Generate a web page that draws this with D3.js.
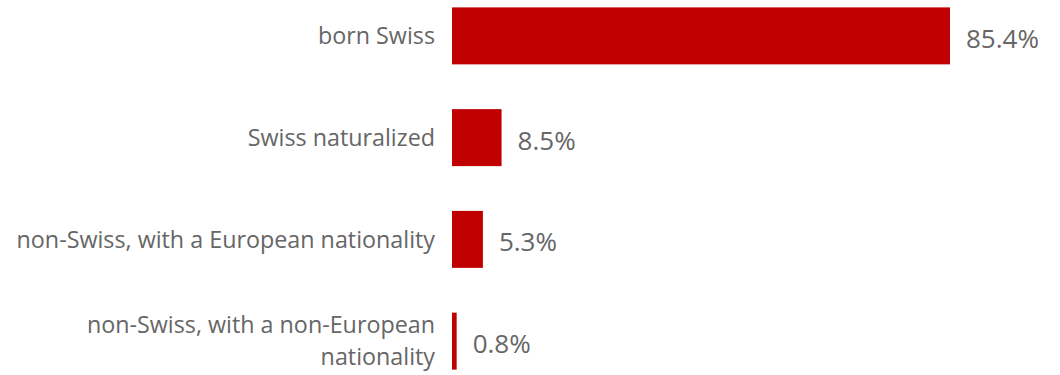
<!DOCTYPE html>
<html>
<head>
<meta charset="utf-8">
<script src="https://cdn.jsdelivr.net/npm/d3@7"></script>
<style>
  html, body { margin: 0; padding: 0; background: #fff; }
  svg { display: block; }
  text { font-family: "Open Sans", sans-serif; fill: #666666; }
</style>
</head>
<body>
<svg id="chart" width="1060" height="375"></svg>
<script>
// Population by nationality status (%)
const categories = [
  "born Swiss",
  "Swiss naturalized",
  "non-Swiss, with a European nationality",
  "non-Swiss, with a non-European nationality"
];
const values = [85.4, 8.5, 5.3, 0.8];
const valueLabels = ["85.4%", "8.5%", "5.3%", "0.8%"];

const width = 1060, height = 375;
const barLeft = 452;
const svg = d3.select("#chart");

const x = d3.scaleLinear().domain([0, 85.4]).range([barLeft, 950]);
const y = d3.scaleBand()
  .domain(categories)
  .range([-15, 392])
  .paddingInner(0.44)
  .paddingOuter(0.22);

// Bars
svg.selectAll("rect.bar")
  .data(categories)
  .join("rect")
  .attr("class", "bar")
  .attr("x", x(0))
  .attr("y", d => y(d))
  .attr("width", (d, i) => x(values[i]) - x(0))
  .attr("height", y.bandwidth())
  .attr("fill", "#C00000");

// Category labels, wrapped to fit to the left of the bars
const maxLabelWidth = 425;
const labelSize = 23.3;
const lineHeight = 32;
const labels = svg.selectAll("text.cat")
  .data(categories)
  .join("text")
  .attr("class", "cat")
  .attr("text-anchor", "end")
  .attr("font-size", labelSize);

labels.each(function(d) {
  const t = d3.select(this);
  const words = d.split(" ");
  const lines = [];
  let line = [];
  const probe = t.append("tspan");
  words.forEach(w => {
    const trial = line.concat(w).join(" ");
    probe.text(trial);
    if (probe.node().getComputedTextLength() > maxLabelWidth && line.length) {
      lines.push(line.join(" "));
      line = [w];
    } else {
      line.push(w);
    }
  });
  lines.push(line.join(" "));
  probe.remove();
  const cy = y(d) + y.bandwidth() / 2;
  const first = cy - (lines.length - 1) * lineHeight / 2;
  lines.forEach((l, k) => {
    t.append("tspan")
      .attr("x", barLeft - 17)
      .attr("y", first + k * lineHeight)
      .attr("dy", "0.35em")
      .text(l);
  });
});

// Value labels
svg.selectAll("text.val")
  .data(categories)
  .join("text")
  .attr("class", "val")
  .attr("x", (d, i) => x(values[i]) + 16)
  .attr("y", d => y(d) + y.bandwidth() / 2 + 3)
  .attr("dy", "0.35em")
  .attr("font-size", 26)
  .text((d, i) => valueLabels[i]);
</script>
</body>
</html>
